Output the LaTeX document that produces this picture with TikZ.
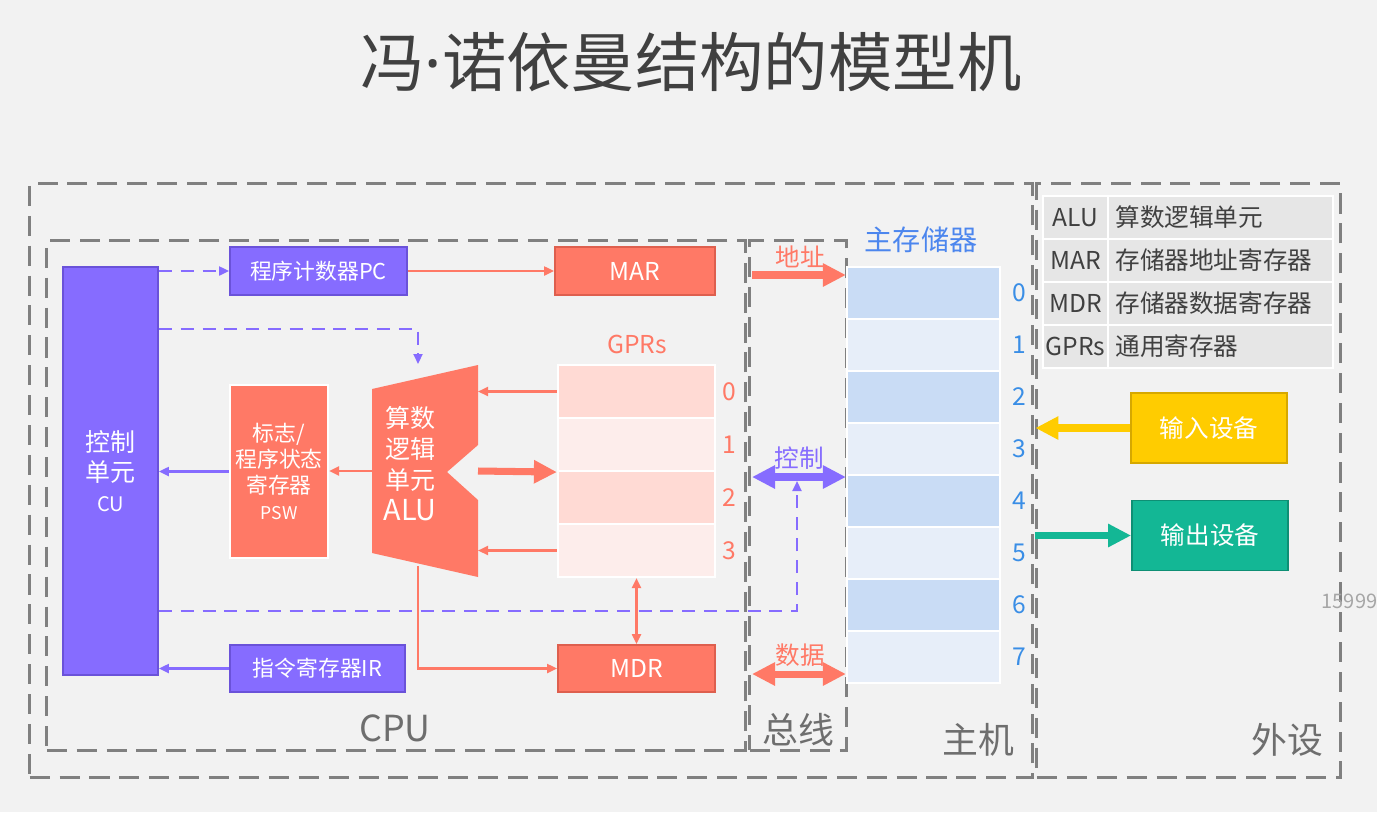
\documentclass[tikz,border=0pt]{standalone}
\usepackage{fontspec}
\setmainfont{Noto Sans CJK SC}
\newfontfamily\latinfont{Noto Sans}
\usetikzlibrary{arrows.meta}

\begin{document}
\begin{tikzpicture}[
  x=0.01cm, y=-0.01cm,
  font=\fontsize{7}{8.5}\selectfont,
  group/.style={draw=groupGrey, line width=0.85pt, dash pattern=on 5.7pt off 2.8pt, inner sep=0pt},
  grouplabel/.style={font=\fontsize{10.2}{12}\selectfont, text=labelGrey},
  unitbox/.style={draw=unitEdge, fill=unitPurple, text=white, line width=0.5pt, inner sep=0pt, align=center},
  regbox/.style={draw=regEdge, fill=regCoral, text=white, line width=0.5pt, inner sep=0pt, align=center},
  gprcell/.style={draw=white, line width=0.6pt, minimum width=1.57cm, minimum height=0.53cm, inner sep=0pt},
  memcell/.style={draw=white, line width=0.6pt, minimum width=1.53cm, minimum height=0.52cm, inner sep=0pt},
  gprnum/.style={text=regCoral, font=\fontsize{7}{8}\selectfont},
  memnum/.style={text=memBlue, font=\fontsize{7}{8}\selectfont},
  tabcell/.style={draw=white, fill=tabGrey, line width=0.6pt, minimum height=0.43cm, inner sep=0pt, text=tabText},
  devbox/.style={text=white, line width=0.5pt, minimum width=1.56cm, minimum height=0.70cm, inner sep=0pt},
  dataflow/.style={draw=regCoral, line width=0.6pt, -{Triangle[length=0.1cm, width=0.09cm]}},
  ctrlline/.style={draw=unitPurple, line width=0.6pt, -{Triangle[length=0.1cm, width=0.09cm]}},
  ctrldash/.style={ctrlline, dash pattern=on 3.7pt off 2.5pt},
  widearrow/.style={line width=2pt, -{Triangle[length=0.23cm, width=0.22cm]}},
  widedouble/.style={line width=2pt, {Triangle[length=0.23cm, width=0.22cm]}-{Triangle[length=0.23cm, width=0.22cm]}},
]

\definecolor{bgGrey}{HTML}{F2F2F2}
\definecolor{groupGrey}{HTML}{808080}
\definecolor{labelGrey}{HTML}{6E6E6E}
\definecolor{titleGrey}{HTML}{404040}
\definecolor{unitPurple}{HTML}{866CFF}
\definecolor{unitEdge}{HTML}{6A52D9}
\definecolor{regCoral}{HTML}{FF7966}
\definecolor{regEdge}{HTML}{DE5F4E}
\definecolor{gprDark}{HTML}{FFDAD4}
\definecolor{gprLight}{HTML}{FDEDEB}
\definecolor{memDark}{HTML}{C9DCF5}
\definecolor{memLight}{HTML}{E7EEF9}
\definecolor{memBlue}{HTML}{3A8EE6}
\definecolor{memTitle}{HTML}{4C86EE}
\definecolor{tabGrey}{HTML}{E6E6E6}
\definecolor{tabText}{HTML}{404040}
\definecolor{inYellow}{HTML}{FFCC00}
\definecolor{inEdge}{HTML}{D6A800}
\definecolor{outTeal}{HTML}{13B795}
\definecolor{outEdge}{HTML}{0E8F74}
\definecolor{wmGrey}{HTML}{A6A6A6}

% Canvas.
\fill[bgGrey] (0,0) rectangle (1377,812);
\useasboundingbox (0,0) rectangle (1377,812);

% Title.
\node[font=\fontsize{18.3}{20}\selectfont, text=titleGrey] (title) at (691,62) {冯{\latinfont ·}诺依曼结构的模型机};

% Group frames.
\node[group, minimum width=10.02cm, minimum height=5.93cm] (hostbox) at (531,480.5) {};
\node[group, minimum width=3.03cm, minimum height=5.93cm] (periphbox) at (1188.5,480.5) {};
\node[group, minimum width=6.98cm, minimum height=5.09cm] (cpubox) at (396,495.5) {};
\node[group, minimum width=0.96cm, minimum height=5.09cm] (busbox) at (798,495.5) {};

\node[grouplabel] (cpulbl) at (395,728) {CPU};
\node[grouplabel] (buslbl) at (798,730) {总线};
\node[grouplabel] (hostlbl) at (978,740) {主机};
\node[grouplabel] (periphlbl) at (1287,740) {外设};

% Control side.
\node[unitbox, minimum width=0.95cm, minimum height=4.08cm, font=\fontsize{7.1}{8.6}\selectfont] (cu) at (110.5,471)
  {控制\\单元\\{\fontsize{5.7}{7}\selectfont CU}};
\node[unitbox, minimum width=1.77cm, minimum height=0.48cm, font=\fontsize{6.2}{7}\selectfont] (pc) at (318.5,271) {程序计数器PC};
\node[unitbox, minimum width=1.75cm, minimum height=0.47cm, font=\fontsize{6.2}{7}\selectfont] (ir) at (317.5,668.5) {指令寄存器IR};

% Data side.
\node[regbox, minimum width=1.60cm, minimum height=0.48cm] (mar) at (635,271) {MAR};
\node[regbox, minimum width=1.57cm, minimum height=0.47cm] (mdr) at (636.5,668.5) {MDR};
\node[regbox, draw=white, line width=0.6pt, minimum width=0.98cm, minimum height=1.73cm, font=\fontsize{6.2}{7.4}\selectfont] (psw) at (279,471.5)
  {标志/\\程序状态\\寄存器\\{\fontsize{5}{6}\selectfont PSW}};

% ALU body with its notch.
\fill[regCoral] (372,389) -- (478,365) -- (478,445) -- (447,472) -- (478,500) -- (478,577) -- (372,553) -- cycle;
\node[text=white, align=center, font=\fontsize{7.1}{8.8}\selectfont] (alu) at (410,464)
  {算数\\逻辑\\单元\\{\fontsize{8.2}{9}\selectfont ALU}};
\coordinate (aluL) at (372,471);
\coordinate (aluR) at (478,471);
\coordinate (aluT) at (418,364);
\coordinate (aluB) at (418,566);

% GPRs.
\node[text=regCoral, font=\fontsize{7}{8}\selectfont] (gprlbl) at (637,344) {GPRs};
\foreach \r in {0,...,3} {
  \ifodd\r \def\cellfill{gprLight}\else \def\cellfill{gprDark}\fi
  \node[gprcell, fill=\cellfill] (g\r) at (636.5,391.5+53*\r) {};
  \node[gprnum] (gn\r) at (729,391.5+53*\r) {\r};
}

% Main memory.
\node[text=memTitle, font=\fontsize{8}{9}\selectfont] (memlbl) at (921,240) {主存储器};
\foreach \r in {0,...,7} {
  \ifodd\r \def\cellfill{memLight}\else \def\cellfill{memDark}\fi
  \node[memcell, fill=\cellfill] (m\r) at (923.5,293+52*\r) {};
  \node[memnum] (mn\r) at (1019,293+52*\r) {\r};
}

% Legend table.
\foreach \key/\val [count=\i from 0] in {ALU/算数逻辑单元, MAR/存储器地址寄存器, MDR/存储器数据寄存器, GPRs/通用寄存器} {
  \node[tabcell, minimum width=0.65cm] (tk\i) at (1075.5,217.5+43*\i) {\key};
  \node[tabcell, minimum width=2.25cm, text width=2.1cm, align=left] (tv\i) at (1220.5,217.5+43*\i) {\val};
}

% Peripherals.
\node[devbox, fill=inYellow, draw=inEdge] (indev) at (1209,428) {输入设备};
\node[devbox, fill=outTeal, draw=outEdge] (outdev) at (1210,535.5) {输出设备};

% Inner CPU connectors.
\draw[ctrldash] (cu.east |- pc.west) -- (pc.west);
\draw[dataflow] (pc) -- (mar);
\draw[ctrldash] (cu.east |- 0,329) -| (aluT);
\draw[dataflow] (aluL) -- (psw.east |- aluL);
\draw[ctrlline] (psw.west) -- (cu.east |- psw.west);
\draw[widearrow, regCoral] (aluR) -- (g1.south west);
\draw[dataflow] (g0.west) -- (g0.west -| aluR);
\draw[dataflow] (g3.west) -- (g3.west -| aluR);
\draw[dataflow, {Triangle[length=0.1cm, width=0.09cm]}-{Triangle[length=0.1cm, width=0.09cm]}] (g3.south) -- (mdr.north);
\draw[dataflow] (aluB) |- (mdr.west);
\draw[ctrlline] (ir.west) -- (cu.east |- ir.west);

% System bus.
\coordinate (addrL) at (752,275);
\coordinate (ctrlL) at (752,477);
\coordinate (dataL) at (752,674);
\coordinate (ctrlUp) at (797,481);
\node[text=regCoral] (addrlbl) at (800,257) {地址};
\node[text=unitPurple] (ctrllbl) at (799,458) {控制};
\node[text=regCoral] (datalbl) at (800,655) {数据};
\draw[widearrow, regCoral] (addrL) -- (m0.west |- addrL);
\draw[widedouble, unitPurple] (ctrlL) -- (m0.west |- ctrlL);
\draw[widedouble, regCoral] (dataL) -- (m0.west |- dataL);
\draw[ctrldash] (cu.east |- 0,611) -| (ctrlUp);

% I/O links.
\draw[widearrow, inYellow] (indev.west) -- (periphbox.west |- indev.west);
\draw[widearrow, outTeal] (periphbox.west |- outdev.west) -- (outdev.west);

% Screen watermark.
\node[anchor=west, text=wmGrey, font=\fontsize{5.7}{6}\selectfont, inner sep=0pt] (wm) at (1321,601) {15999};

\end{tikzpicture}
\end{document}
